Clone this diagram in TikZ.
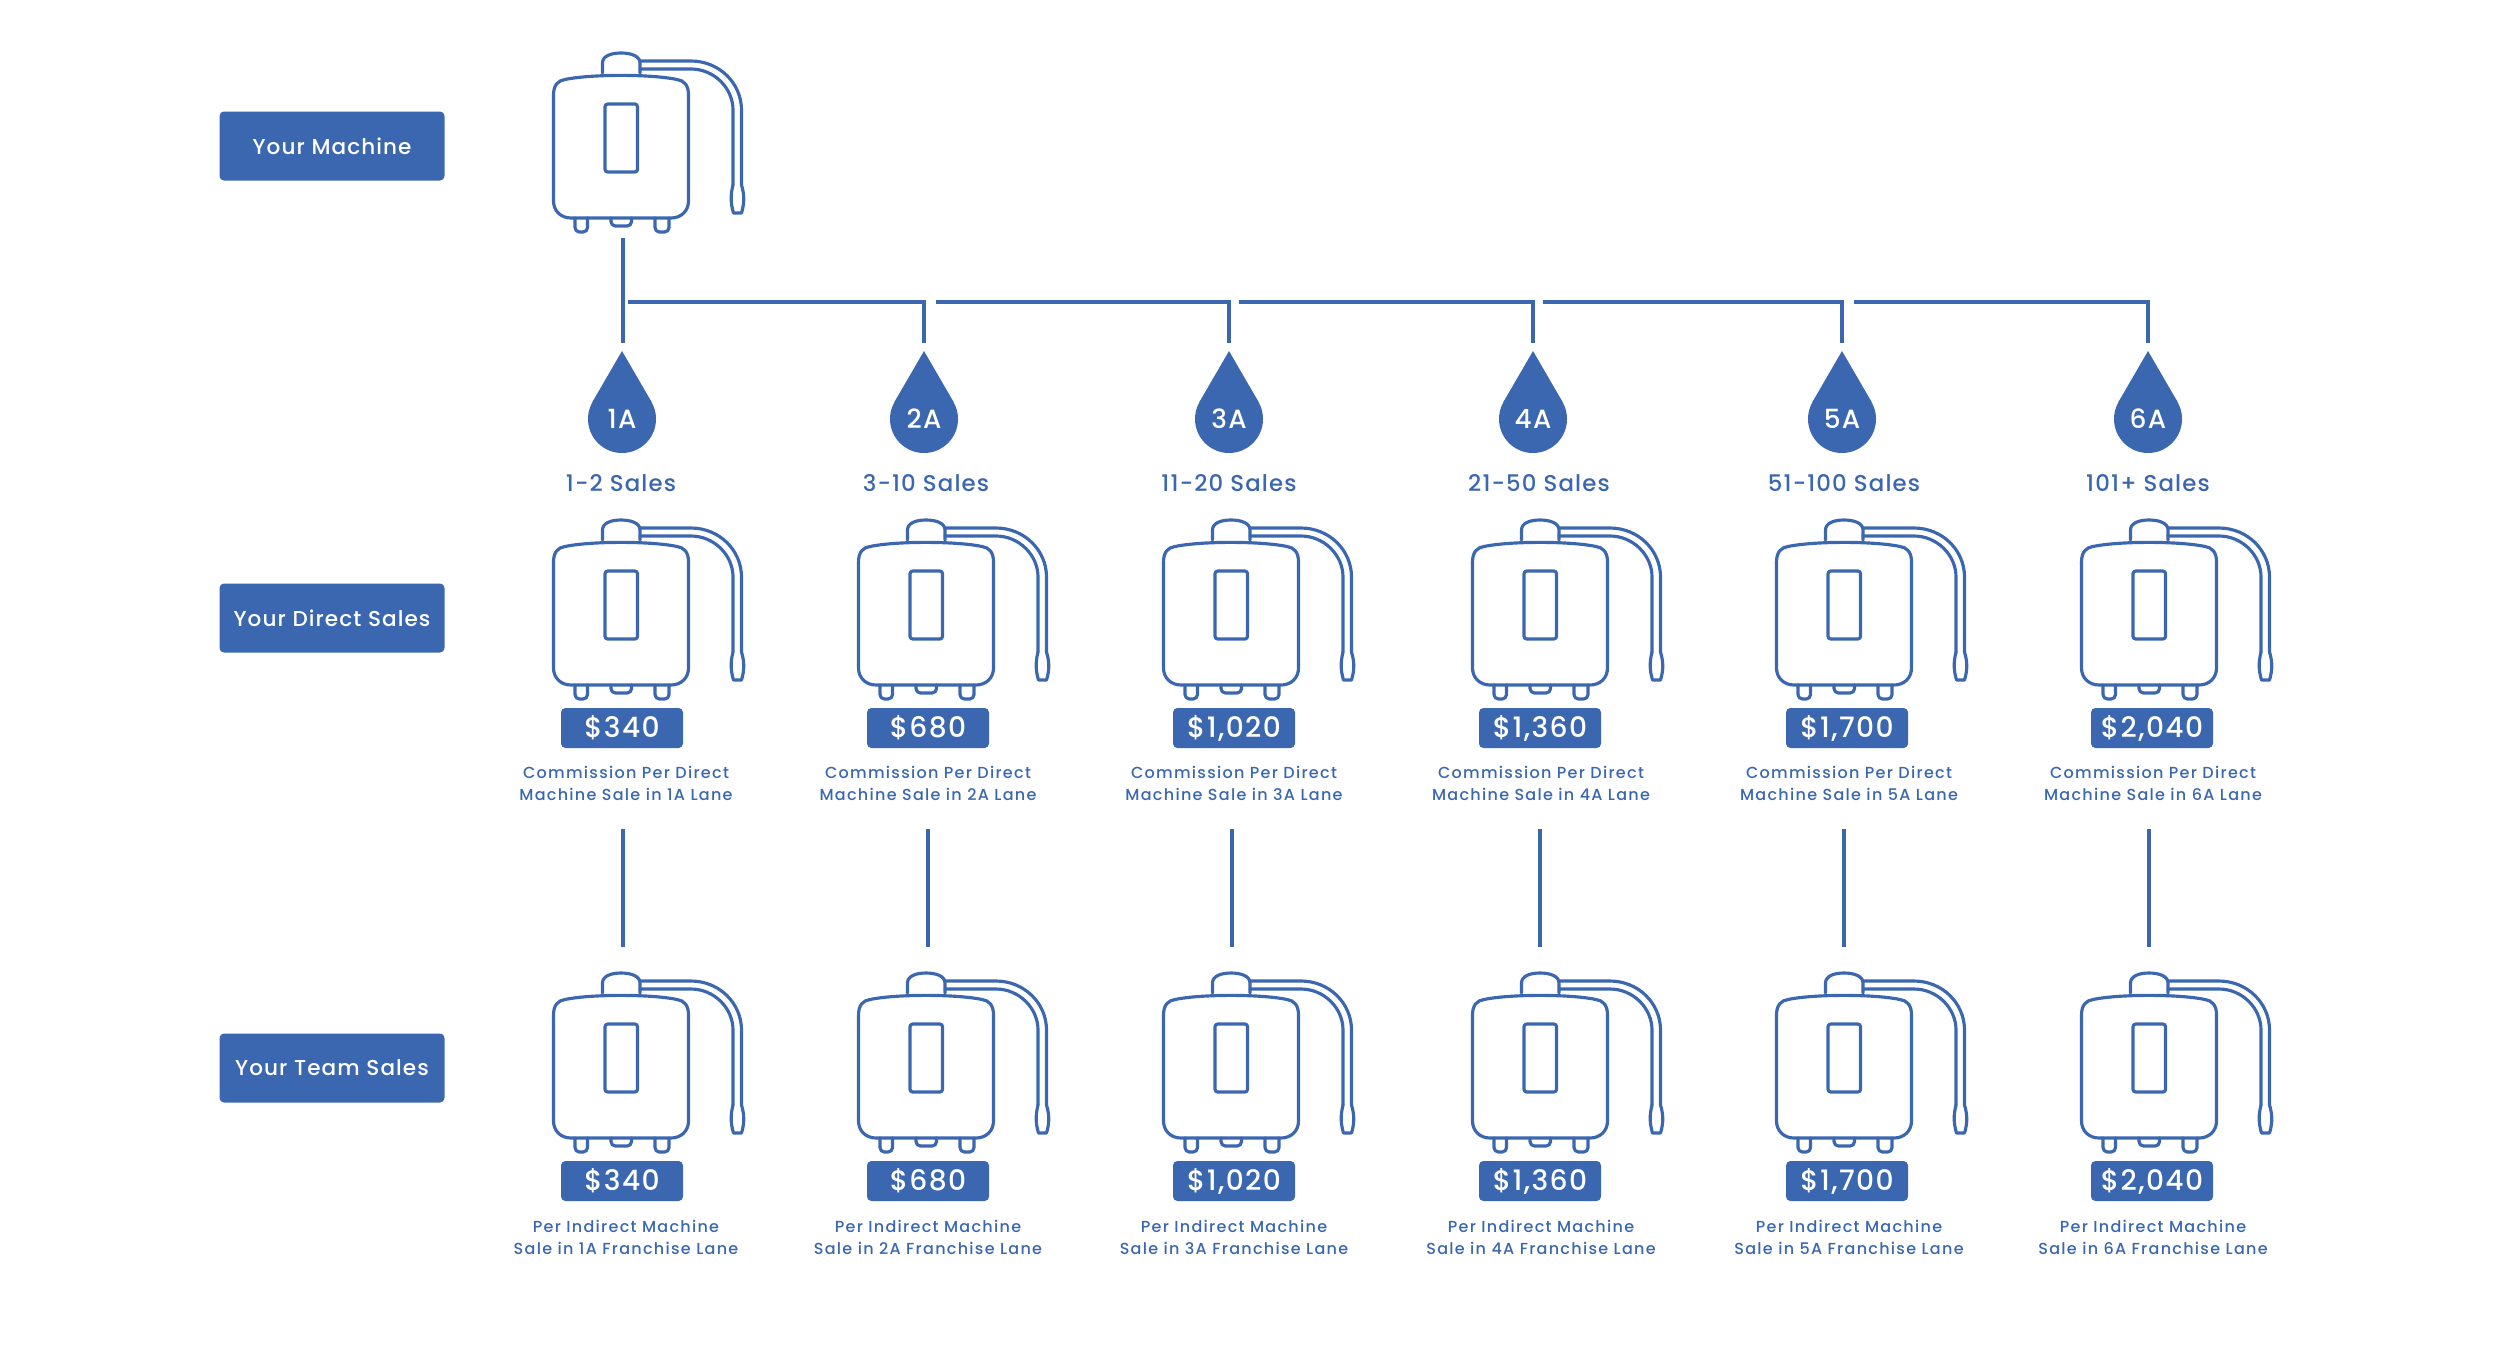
\documentclass[tikz,border=0pt]{standalone}
\usepackage{fontspec}
\setmainfont{Poppins}
\definecolor{brand}{HTML}{3A67AF}
\newfontfamily\lblfont[LetterSpace=5]{Poppins Medium}
\newfontfamily\capfont[LetterSpace=8]{Poppins Medium}
\tikzset{
  x=0.04cm,y=-0.04cm,
  lineart/.style={draw=brand,line width=3.6pt,line join=round,line cap=round},
  conn/.style={draw=brand,line width=3.6pt},
  labelbox/.style={fill=brand,rounded corners=5pt,text=white,minimum width=225*0.04cm,minimum height=69*0.04cm,inner sep=0pt,font=\lblfont\fontsize{24.5}{28}\selectfont},
  pricebox/.style={fill=brand,rounded corners=5pt,text=white,minimum width=122*0.04cm,minimum height=40*0.04cm,inner sep=0pt,font=\lblfont\fontsize{32}{36}\selectfont},
  salestext/.style={text=brand,inner sep=0pt,font=\lblfont\fontsize{26}{30}\selectfont},
  captext/.style={text=brand,inner sep=0pt,align=center,font=\capfont\fontsize{18.2}{25}\selectfont},
  droptext/.style={text=white,inner sep=0pt,font=\lblfont\fontsize{30}{34}\selectfont},
  machine/.pic={
    \path[lineart] (-67.5,42) .. controls (-67.5,32) and (-63,27.5) .. (-56,26.5)
      .. controls (-30,21) and (30,21) .. (56,26.5)
      .. controls (63,27.5) and (67.5,32) .. (67.5,42) -- (67.5,148)
      .. controls (67.5,158) and (60,165) .. (50,165) -- (-50,165)
      .. controls (-60,165) and (-67.5,158) .. (-67.5,148) -- cycle;
    \path[lineart] (-18.5,20) -- (-18.5,10) .. controls (-18.5,3) and (-10,0) .. (0,0)
      .. controls (10,0) and (19,3) .. (19,10) -- (19,20);
    \path[lineart] (19,8) -- (70,8) .. controls (98,8) and (120.5,30) .. (120.5,57) -- (120.5,132);
    \path[lineart] (19,16) -- (70,16) .. controls (93,16) and (112,35) .. (112,57) -- (112,132);
    \path[lineart] (112,132) .. controls (109.5,142) and (109.5,150) .. (112.5,160)
      -- (120.5,160) .. controls (123.5,150) and (123.5,142) .. (120.5,132);
    \path[lineart,rounded corners=3pt] (-16,51) rectangle (16.5,119);
    \path[lineart,rounded corners=5pt] (-46,165) -- (-46,179) -- (-33.5,179) -- (-33.5,165);
    \path[lineart,rounded corners=5pt] (34,165) -- (34,179) -- (48,179) -- (48,165);
    \path[lineart,rounded corners=5pt] (-10,165) -- (-10,173) -- (10.5,173) -- (10.5,165);
  }
}
\begin{document}
\begin{tikzpicture}
\useasboundingbox (0,0) rectangle (2500,1344);
% row labels
\node[labelbox] (lblmachine) at (332,146) {Your Machine};
\node[labelbox] (lbldirect) at (332,618) {Your Direct Sales};
\node[labelbox] (lblteam) at (332,1068) {Your Team Sales};
% top machine
\pic (mtop) at (621,53) {machine};
% trunk
\coordinate (trunktop) at (623,238);
\coordinate (trunkbot) at (623,343);
\draw[conn] (trunktop) -- (trunkbot);
% drops and branches
\foreach \i/\dx/\lab/\sx/\sales in {1/622/1A/621/{1-2 Sales},2/924/2A/926/{3-10 Sales},3/1229/3A/1229/{11-20 Sales},4/1533/4A/1539/{21-50 Sales},5/1842/5A/1844/{51-100 Sales},6/2148/6A/2148/{101+ Sales}}{
  \fill[brand] (\dx,351) -- (\dx-29.6,402) -- (\dx+29.6,402) -- cycle;
  \fill[brand] (\dx,419) circle (34);
  \node[droptext] (drop\i) at (\dx,419) {\lab};
  \node[salestext] (sales\i) at (\sx,483) {\sales};
  \coordinate (droptop\i) at (\dx,343);
  \coordinate (dropjoin\i) at (\dx,302);
}
\coordinate (seg1) at (628,302);
\coordinate (seg2) at (936,302);
\coordinate (seg3) at (1239,302);
\coordinate (seg4) at (1543,302);
\coordinate (seg5) at (1854,302);
\draw[conn] (seg1) -- (dropjoin2) -- (droptop2);
\draw[conn] (seg2) -- (dropjoin3) -- (droptop3);
\draw[conn] (seg3) -- (dropjoin4) -- (droptop4);
\draw[conn] (seg4) -- (dropjoin5) -- (droptop5);
\draw[conn] (seg5) -- (dropjoin6) -- (droptop6);
% columns
\foreach \i/\mx/\px/\cx/\lx/\price/\lab in {1/621/622/626/623/{\$340}/1A,2/926/928/928/928/{\$680}/2A,3/1231/1234/1234/1232/{\$1,020}/3A,4/1540/1540/1541/1540/{\$1,360}/4A,5/1844/1847/1849/1844/{\$1,700}/5A,6/2149/2152/2153/2149/{\$2,040}/6A}{
  \pic (mdir\i) at (\mx,520) {machine};
  \pic (mteam\i) at (\mx,973) {machine};
  \node[pricebox] (pdir\i) at (\px,728) {\price};
  \node[pricebox] (pteam\i) at (\px,1181) {\price};
  \node[captext] (cdir\i) at (\cx,783.5) {Commission Per Direct\\Machine Sale in \lab{} Lane};
  \node[captext] (cteam\i) at (\cx,1237) {Per Indirect Machine\\Sale in \lab{} Franchise Lane};
  \coordinate (lanetop\i) at (\lx,829);
  \coordinate (lanebot\i) at (\lx,947);
  \draw[conn] (lanetop\i) -- (lanebot\i);
}
\end{tikzpicture}
\end{document}
